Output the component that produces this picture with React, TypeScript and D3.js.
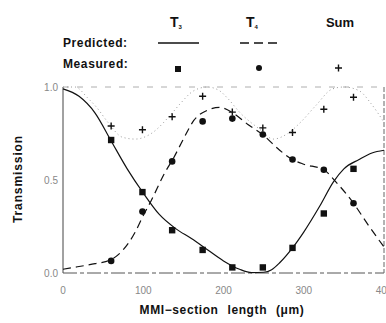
import React from 'react'
import * as d3 from 'd3'

const W = 386, H = 323
const margin = { top: 87, right: 2, bottom: 50, left: 63 }

// predicted curves, sampled from the figure
const curveX = [0, 20, 40, 60, 80, 100, 120, 140, 160, 180, 200, 220, 235, 250, 260, 270, 286, 300, 320, 337, 350, 369, 385, 400]
const predT3 = [0.99, 0.95, 0.86, 0.71, 0.56, 0.43, 0.315, 0.24, 0.185, 0.125, 0.065, 0.02, 0.002, 0.004, 0.018, 0.055, 0.135, 0.22, 0.36, 0.49, 0.56, 0.61, 0.645, 0.66]

const t4X = [0, 20, 40, 59, 74, 90, 99, 110, 127, 138, 150, 163, 180, 195, 212, 230, 250, 270, 286, 300, 325, 340, 362, 380, 400]
const predT4 = [0.02, 0.035, 0.05, 0.07, 0.12, 0.22, 0.3, 0.39, 0.54, 0.62, 0.72, 0.82, 0.875, 0.89, 0.86, 0.8, 0.74, 0.66, 0.61, 0.585, 0.555, 0.49, 0.375, 0.26, 0.14]

const sumX = [0, 15, 31, 42, 56, 74, 90, 110, 134, 146, 163, 180, 195, 205, 221, 246, 262, 280, 296, 315, 336, 350, 369, 384, 400]
const predSum = [1.0, 1.0, 0.94, 0.89, 0.81, 0.73, 0.72, 0.75, 0.85, 0.91, 0.98, 1.0, 0.98, 0.94, 0.86, 0.77, 0.72, 0.75, 0.81, 0.9, 0.99, 1.0, 0.98, 0.91, 0.81]

// measured points
const measX = [60, 99, 136, 174, 211, 249, 286, 325, 362]
const measT3 = [0.715, 0.435, 0.23, 0.124, 0.03, 0.03, 0.135, 0.32, 0.56]
const measT4 = [0.065, 0.33, 0.6, 0.815, 0.83, 0.745, 0.61, 0.555, 0.375]
const measSum = [0.79, 0.77, 0.84, 0.95, 0.865, 0.78, 0.755, 0.88, 0.945]

const xTicks = [0, 100, 200, 300, 400]
const yTicks = [0, 0.5, 1.0]

export default function App() {
    const x = d3.scaleLinear().domain([0, 400]).range([margin.left, W - margin.right])
    const y = d3.scaleLinear().domain([0, 1]).range([H - margin.bottom, margin.top])

    const line = (xs: number[], ys: number[]) =>
        d3.line<number>()
            .x((d, i) => x(xs[i]))
            .y(d => y(d))
            .curve(d3.curveMonotoneX)(ys) || ''

    const font = '"Liberation Sans", Arial, sans-serif'
    const x0 = x(0), x1 = x(400), yb = y(0), yt = y(1)

    return (
        <svg width={W} height={H} style={{ position: 'absolute', left: 0, top: 0, background: '#fff' }}
            fontFamily={font}>
            {/* frame */}
            <line x1={x0} y1={yt} x2={x0} y2={yb} stroke="#444" strokeWidth={1} />
            <line x1={x0} y1={yb} x2={x1} y2={yb} stroke="#555" strokeWidth={1} strokeDasharray="14,3,4,3" />
            <line x1={x0} y1={yt} x2={x1} y2={yt} stroke="#999" strokeWidth={0.8} strokeDasharray="6,8" />
            <line x1={x1} y1={yt} x2={x1} y2={yb} stroke="#666" strokeWidth={1} strokeDasharray="5,2" />

            {/* ticks */}
            {yTicks.map(t => (
                <text key={t} x={x0 - 5} y={y(t) + 3.5} textAnchor="end" fontSize={10} fill="#888">
                    {t.toFixed(1)}
                </text>
            ))}
            {xTicks.map(t => (
                <text key={t} x={x(t)} y={294} textAnchor="middle" fontSize={10} fill="#888">{t}</text>
            ))}

            {/* predicted curves */}
            <path d={line(sumX, predSum)} fill="none" stroke="#999" strokeWidth={1} strokeDasharray="1,3" />
            <path d={line(curveX, predT3)} fill="none" stroke="#111" strokeWidth={1.2} />
            <path d={line(t4X, predT4)} fill="none" stroke="#111" strokeWidth={1.2} strokeDasharray="8,5" />

            {/* measured */}
            {measX.map((v, i) => (
                <rect key={'s' + i} x={x(v) - 3.2} y={y(measT3[i]) - 3.2} width={6.4} height={6.4} fill="#111" />
            ))}
            {measX.map((v, i) => (
                <circle key={'c' + i} cx={x(v)} cy={y(measT4[i])} r={3.3} fill="#111" />
            ))}
            {measX.map((v, i) => (
                <path key={'p' + i} d={`M${x(v) - 3.5},${y(measSum[i])}h7M${x(v)},${y(measSum[i]) - 3.5}v7`}
                    stroke="#111" strokeWidth={1.4} />
            ))}

            {/* axis titles */}
            <text x={222} y={314} textAnchor="middle" fontSize={12} fontWeight="bold" fill="#111"
                letterSpacing={0.6} wordSpacing={5}>
                MMI−section length (μm)
            </text>
            <text transform="translate(22,179) rotate(-90)" textAnchor="middle" fontSize={12}
                fontWeight="bold" fill="#111" letterSpacing={0.9}>Transmission</text>

            {/* legend */}
            <text x={170} y={27} fontSize={14} fontWeight="bold" fill="#111">T<tspan fontSize={6} dy={2}>3</tspan></text>
            <text x={246} y={27} fontSize={14} fontWeight="bold" fill="#111">T<tspan fontSize={6} dy={2}>4</tspan></text>
            <text x={340} y={27} textAnchor="middle" fontSize={13} fontWeight="bold" fill="#111">Sum</text>
            <text x={63} y={47} fontSize={12} fontWeight="bold" fill="#111" letterSpacing={0.6}>Predicted:</text>
            <text x={63} y={68} fontSize={12} fontWeight="bold" fill="#111" letterSpacing={0.6}>Measured:</text>
            <line x1={158} x2={199} y1={43} y2={43} stroke="#111" strokeWidth={1.3} />
            <line x1={240} x2={279} y1={43} y2={43} stroke="#111" strokeWidth={1.3} strokeDasharray="9,5" />
            <rect x={175} y={66} width={6} height={6} fill="#111" />
            <circle cx={259} cy={68} r={3} fill="#111" />
            <path d="M335,68h7M338.5,64.5v7" stroke="#111" strokeWidth={1.4} />
        </svg>
    )
}
